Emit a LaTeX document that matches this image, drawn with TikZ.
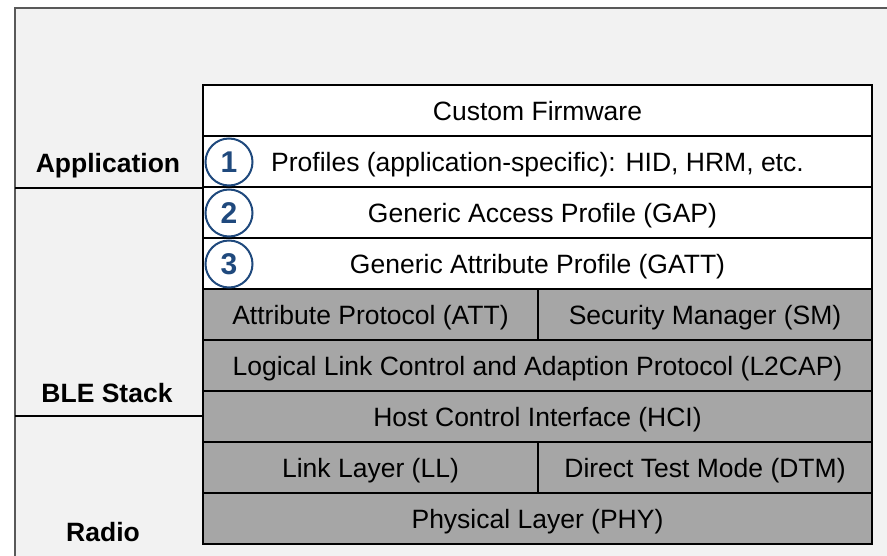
\documentclass[tikz,border=0pt]{standalone}
\usepackage{fontspec}
\setmainfont{Liberation Sans}
\definecolor{bgc}{HTML}{F2F2F2}
\definecolor{framec}{HTML}{595959}
\definecolor{grayc}{HTML}{A6A6A6}
\definecolor{bluec}{HTML}{1F497D}
\begin{document}
\begin{tikzpicture}[x=1pt,y=-1pt,
  layer/.style={draw=black,line width=2.2pt,minimum height=51pt,inner sep=0pt,text height=24pt,text depth=4pt,font=\fontsize{26.5}{30}\selectfont},
  white layer/.style={layer,fill=white},
  gray layer/.style={layer,fill=grayc},
  side label/.style={font=\fontsize{26.5}{30}\selectfont\bfseries},
  num/.style={circle,draw=bluec,line width=2pt,fill=white,minimum size=47pt,inner sep=0pt,text=bluec,font=\fontsize{30}{32}\selectfont\bfseries}]
\useasboundingbox (0,0) rectangle (887,556);
\fill[white] (0,0) rectangle (887,556);
\draw[fill=bgc,draw=framec,line width=2pt] (15,8) rectangle (900,570);
% stack rows
\node[white layer,minimum width=669pt] (cf) at (537.5,110.5) {Custom Firmware};
\node[white layer,minimum width=669pt] (prof) at (537.5,161.5) {Profiles (application-specific): HID, HRM, etc.};
\node[white layer,minimum width=669pt] (gap) at (537.5,212.5) {\hspace*{10pt}Generic Access Profile (GAP)};
\node[white layer,minimum width=669pt] (gatt) at (537.5,263.5) {Generic Attribute Profile (GATT)};
\node[gray layer,minimum width=335pt] (att) at (370.5,314.5) {Attribute Protocol (ATT)};
\node[gray layer,minimum width=334pt] (sm) at (705,314.5) {Security Manager (SM)};
\node[gray layer,minimum width=669pt] (l2cap) at (537.5,365.5) {Logical Link Control and Adaption Protocol (L2CAP)};
\node[gray layer,minimum width=669pt] (hci) at (537.5,416.5) {Host Control Interface (HCI)};
\node[gray layer,minimum width=335pt] (ll) at (370.5,467.5) {Link Layer (LL)};
\node[gray layer,minimum width=334pt] (dtm) at (705,467.5) {Direct Test Mode (DTM)};
\node[gray layer,minimum width=669pt] (phy) at (537.5,518.5) {Physical Layer (PHY)};
% numbered circles
\node[num] (c1) at (229,162) {1};
\node[num] (c2) at (229,213) {2};
\node[num] (c3) at (229,264) {3};
% side labels and dividers
\node[side label] (app) at (108,166) {Application};
\node[side label] (ble) at (107,393) {BLE Stack};
\node[side label] (radio) at (103,532) {Radio};
\coordinate (d1l) at (15,188);
\coordinate (d2l) at (15,416);
\draw[line width=2pt] (d1l) -- (d1l -| cf.west);
\draw[line width=2pt] (d2l) -- (d2l -| cf.west);
\end{tikzpicture}
\end{document}
